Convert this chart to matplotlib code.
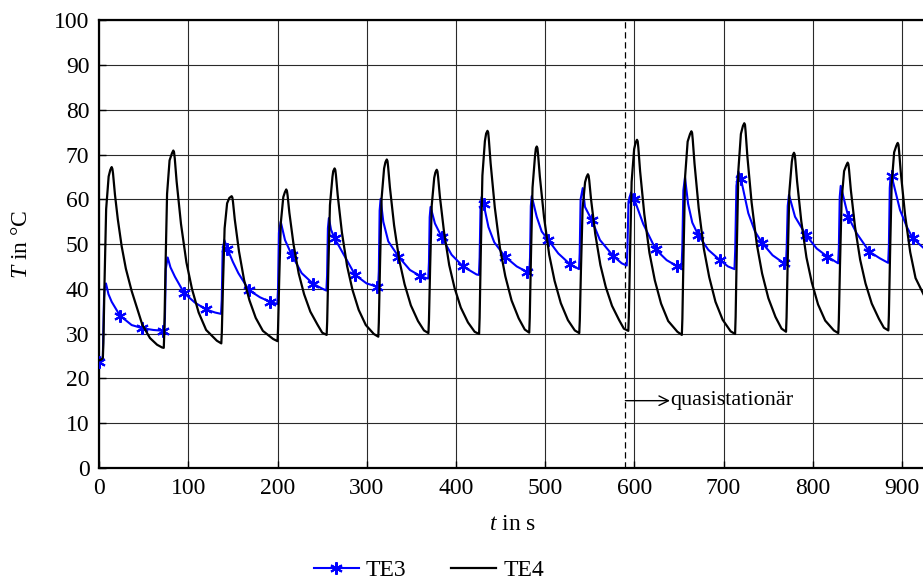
import matplotlib
matplotlib.use("Agg")
import matplotlib.pyplot as plt

# ---------------- data ----------------
x_ticks = [0, 100, 200, 300, 400, 500, 600, 700, 800, 900]
y_ticks = [0, 10, 20, 30, 40, 50, 60, 70, 80, 90, 100]

te4_t = [0, 2.5, 4.2, 4.8, 6.1, 7.9, 10.7, 12.6, 14.1, 14.9, 15.6, 17.8, 21.0, 25.3, 30.0, 36.5, 42.0, 48.4, 57.0, 65.0, 70.5, 72.5,
         73.1, 74.4, 76.2, 79.0, 81.7, 83.2, 84.0, 84.8, 86.9, 91.8, 97.9, 104.2, 111.6, 120.0, 132.0, 137.0,
         137.6, 138.9, 140.7, 143.5, 146.0, 148.6, 149.4, 150.1, 152.1, 156.8, 162.6, 168.6, 175.6, 183.6, 195.0, 200.0,
         200.6, 201.9, 203.7, 206.5, 208.3, 209.8, 210.6, 211.3, 213.3, 218.0, 223.8, 229.8, 236.8, 244.8, 250.1, 255.1,
         255.7, 257.0, 258.8, 261.6, 262.5, 264.0, 264.8, 265.5, 267.5, 272.2, 278.0, 284.0, 291.0, 299.0, 308.0, 313.0,
         313.6, 314.9, 316.7, 319.5, 321.0, 322.5, 323.3, 324.0, 326.0, 330.7, 336.5, 342.5, 349.5, 357.5, 364.2, 369.2,
         369.8, 371.1, 372.9, 375.7, 377.0, 378.5, 379.3, 380.0, 382.0, 386.7, 392.5, 398.5, 405.5, 413.5, 421.0, 426.0,
         426.6, 427.9, 429.7, 432.5, 433.9, 435.4, 436.2, 436.9, 438.9, 443.6, 449.4, 455.4, 462.4, 470.4, 477.2, 482.2,
         482.8, 484.1, 485.9, 488.7, 489.6, 490.6, 491.4, 492.1, 494.1, 498.8, 504.6, 510.6, 517.6, 525.6, 533.3, 538.3,
         538.9, 540.2, 542.0, 544.8, 546.5, 548.0, 548.8, 549.5, 551.5, 556.2, 562.0, 568.0, 575.0, 583.0, 588.3, 593.3,
         593.9, 595.2, 597.0, 599.8, 601.5, 603.0, 603.8, 604.5, 606.5, 611.2, 617.0, 623.0, 630.0, 638.0, 648.3, 653.3,
         653.9, 655.2, 657.0, 659.8, 662.5, 664.0, 664.8, 665.5, 667.5, 672.2, 678.0, 684.0, 691.0, 699.0, 708.0, 713.0,
         713.6, 714.9, 716.7, 719.5, 721.8, 723.3, 724.1, 724.8, 726.8, 731.5, 737.3, 743.3, 750.3, 758.3, 765.1, 770.1,
         770.7, 772.0, 773.8, 776.6, 777.8, 779.0, 779.8, 780.5, 782.5, 787.2, 793.0, 799.0, 806.0, 814.0, 823.7, 828.7,
         829.3, 830.6, 832.4, 835.2, 837.7, 839.2, 840.0, 840.7, 842.7, 847.4, 853.2, 859.2, 866.2, 874.2, 879.8, 884.8,
         885.4, 886.7, 888.5, 891.3, 893.8, 895.3, 896.1, 896.8, 898.8, 903.5, 909.3, 915.3, 923.6, 930.0]
te4_v = [24.0, 24.2, 24.5, 27.9, 41.6, 57.8, 65.1, 66.6, 67.2, 66.8, 65.8, 61.0, 55.5, 49.5, 44.5, 39.5, 36.0, 32.0, 29.0, 27.5, 26.9, 26.8,
         30.3, 44.4, 61.2, 68.7, 70.3, 70.9, 70.55, 69.2, 64.0, 54.5, 45.9, 39.9, 34.7, 30.8, 28.4, 27.8,
         30.4, 41.0, 53.5, 59.1, 60.3, 60.7, 60.4, 59.4, 55.5, 48.4, 41.9, 37.4, 33.5, 30.6, 28.8, 28.3,
         31.0, 41.9, 54.7, 60.5, 61.6, 62.2, 61.85, 60.9, 57.0, 49.9, 43.4, 38.8, 34.9, 32.0, 30.2, 29.7,
         32.7, 44.6, 58.7, 65.0, 66.3, 66.9, 66.55, 65.4, 60.9, 52.6, 45.1, 39.8, 35.3, 31.9, 29.9, 29.3,
         32.5, 45.1, 60.2, 66.9, 68.3, 68.9, 68.55, 67.3, 62.7, 54.2, 46.4, 41.0, 36.3, 32.8, 30.7, 30.1,
         33.0, 44.7, 58.6, 64.8, 66.0, 66.6, 66.25, 65.1, 60.7, 52.7, 45.3, 40.2, 35.8, 32.5, 30.4, 29.9,
         33.5, 48.1, 65.3, 73.0, 74.7, 75.3, 74.95, 73.5, 68.1, 58.2, 49.1, 42.8, 37.4, 33.4, 30.9, 30.2,
         33.5, 46.8, 62.6, 69.7, 71.3, 71.8, 71.45, 70.1, 65.1, 56.0, 47.6, 41.8, 36.8, 33.0, 30.7, 30.1,
         32.9, 44.3, 57.8, 63.8, 65.0, 65.6, 65.25, 64.2, 60.0, 52.3, 45.3, 40.4, 36.2, 33.0, 31.1, 30.6,
         34.0, 47.7, 63.9, 71.2, 72.7, 73.3, 72.95, 71.6, 66.3, 56.7, 48.0, 41.9, 36.7, 32.8, 30.4, 29.7,
         33.3, 47.9, 65.2, 72.9, 74.6, 75.2, 74.85, 73.4, 68.0, 58.0, 48.9, 42.6, 37.1, 33.1, 30.5, 29.9,
         33.7, 48.7, 66.6, 74.6, 76.4, 77.0, 76.65, 75.1, 69.5, 59.3, 50.0, 43.4, 37.9, 33.7, 31.1, 30.4,
         33.6, 46.4, 61.6, 68.4, 69.9, 70.4, 70.05, 68.8, 64.0, 55.1, 47.0, 41.4, 36.5, 32.9, 30.7, 30.1,
         33.1, 45.3, 59.8, 66.3, 67.6, 68.2, 67.85, 66.7, 62.2, 53.9, 46.5, 41.2, 36.7, 33.3, 31.3, 30.7,
         34.1, 47.5, 63.4, 70.5, 72.0, 72.6, 72.25, 70.9, 65.9, 56.6, 48.2, 42.4, 39.0, 36.5]

te3_t = [0.0, 3.0, 4.2, 5.5, 6.5, 7.7, 10.5, 14.1, 23.4, 36.5, 48.4, 60.8, 72.0,
         73.0, 73.8, 74.8, 76.9, 80.0, 85.0, 95.5, 107.5, 119.8, 130.0, 136.7,
         137.5, 138.5, 140.4, 143.7, 150.0, 156.1, 168.0, 180.4, 191.6, 199.8,
         200.6, 201.6, 203.6, 208.4, 215.9, 227.1, 240.1, 249.5, 254.8,
         255.6, 256.5, 257.6, 260.0, 264.0, 273.8, 287.0, 299.9, 311.5, 312.8,
         313.6, 314.5, 315.6, 318.6, 324.2, 335.6, 348.5, 359.8, 366.4, 369.0,
         369.8, 370.6, 371.6, 376.5, 384.0, 395.2, 408.0, 423.2, 425.8,
         426.6, 427.6, 428.8, 431.0, 436.5, 443.0, 455.0, 468.2, 479.4, 482.3,
         483.1, 484.0, 485.0, 490.6, 496.2, 503.6, 514.8, 527.9, 538.0,
         538.8, 539.8, 542.2, 544.7, 552.2, 561.5, 576.5, 585.9, 591.5,
         592.3, 593.5, 596.3, 600.0, 610.0, 624.0, 636.3, 647.5, 653.0,
         653.8, 655.0, 656.8, 660.3, 665.0, 671.7, 683.0, 696.1, 705.0, 712.3,
         713.1, 714.5, 716.6, 719.6, 727.8, 735.3, 743.5, 755.0, 767.8, 770.0,
         770.8, 772.0, 773.4, 780.2, 792.5, 804.5, 816.4, 828.5,
         829.3, 830.3, 831.4, 840.0, 849.3, 863.5, 875.4, 884.6,
         885.4, 886.4, 887.4, 888.6, 897.9, 905.4, 912.1, 925.0]
te3_v = [23.6, 23.8, 25.0, 38.0, 40.6, 41.2, 38.8, 37.1, 34.0, 31.9, 31.2, 30.8, 30.6,
         30.6, 33.5, 44.5, 47.0, 44.8, 42.7, 39.0, 36.9, 35.4, 34.7, 34.4,
         37.5, 48.5, 50.9, 49.0, 46.0, 43.5, 39.7, 38.1, 37.1, 36.6,
         40.0, 52.5, 55.0, 50.9, 47.6, 43.5, 41.1, 40.1, 39.6,
         43.0, 53.5, 55.8, 53.2, 51.3, 47.8, 43.1, 41.2, 40.5, 40.4,
         44.0, 57.5, 60.1, 55.0, 50.6, 47.2, 44.2, 42.9, 42.4, 42.3,
         46.0, 56.0, 58.3, 54.6, 51.6, 47.6, 45.0, 43.2, 43.1,
         47.0, 58.0, 60.5, 59.0, 53.8, 50.4, 47.2, 45.0, 43.8, 43.5,
         47.0, 58.5, 60.7, 56.1, 52.8, 50.9, 47.9, 45.5, 44.4,
         48.0, 60.0, 62.5, 58.3, 55.4, 50.9, 47.3, 45.7, 45.2,
         49.0, 59.5, 61.5, 60.0, 54.5, 48.8, 46.4, 45.1, 44.9,
         49.0, 62.0, 64.9, 59.0, 54.8, 52.0, 48.7, 46.4, 45.0, 44.4,
         48.5, 63.0, 66.2, 64.5, 56.9, 52.8, 50.2, 47.5, 45.7, 45.5,
         49.0, 58.5, 61.0, 56.1, 52.0, 49.0, 47.2, 45.7,
         49.0, 60.5, 63.0, 56.0, 52.4, 48.3, 46.8, 45.8,
         49.5, 62.5, 65.4, 65.1, 57.6, 53.9, 51.3, 49.0]

te3_marker_t = [0.0, 23.4, 48.4, 72.0, 95.5, 119.8, 143.7, 168.0, 191.6, 215.9, 240.1, 264.0, 287.0,
                311.5, 335.6, 359.8, 384.0, 408.0, 431.0, 455.0, 479.4, 503.6, 527.9, 552.2, 576.5,
                600.0, 624.0, 647.5, 671.7, 696.1, 719.6, 743.5, 767.8, 792.5, 816.4, 840.0, 863.5,
                888.6, 912.1]

quasi_start = 590
quasi_arrow_end = 640
quasi_level = 15
quasi_label = "quasistationär"

# ---------------- style ----------------
plt.rcParams["font.family"] = ["Liberation Serif", "DejaVu Serif"]
plt.rcParams["mathtext.fontset"] = "custom"
plt.rcParams["mathtext.rm"] = "Liberation Serif"
plt.rcParams["mathtext.it"] = "Liberation Serif:italic"
plt.rcParams["font.size"] = 17

W, H = 923, 584
fig = plt.figure(figsize=(W / 100, H / 100), dpi=100)

x_left_px, px_per_unit = 99.1, 0.892
xmax = 930
left = x_left_px / W
width = xmax * px_per_unit / W
bottom = (H - 467.8) / H
top = (H - 20.3) / H
ax = fig.add_axes([left, bottom, width, top - bottom])

ax.set_xlim(0, xmax)
ax.set_ylim(0, 100)
ax.set_xticks(x_ticks)
ax.set_yticks(y_ticks)
ax.grid(True, color="#2a2a2a", linewidth=0.8)
ax.set_axisbelow(True)
for s in ax.spines.values():
    s.set_linewidth(1.6)
    s.set_color("black")
ax.tick_params(direction="in", length=5, width=1.0, labelsize=17, pad=7)

marker_set = set(te3_marker_t)
mark_idx = [i for i, t in enumerate(te3_t) if t in marker_set]

ax.plot(te3_t, te3_v, color="#0000ff", linewidth=1.5, marker=(6, 2, 0), markersize=9,
        markeredgewidth=1.5, markevery=mark_idx, label="TE3", solid_joinstyle="round", zorder=3)
ax.plot(te4_t, te4_v, color="black", linewidth=1.6, label="TE4", solid_joinstyle="round", zorder=4)

ax.axvline(quasi_start, color="black", linestyle=(0, (5, 3)), linewidth=0.9, zorder=2)
ax.annotate("", xy=(quasi_arrow_end, quasi_level), xytext=(quasi_start, quasi_level),
            arrowprops=dict(arrowstyle="->", color="black", lw=1.0, shrinkA=0, shrinkB=0))
ax.text(quasi_arrow_end + 0.5, quasi_level, quasi_label, ha="left", va="center", fontsize=16)

ax.set_xlabel("$t$ in s", fontsize=17)
ax.xaxis.set_label_coords((513 - x_left_px) / (width * W), -(514 - 467.8) / ((top - bottom) * H))
ax.set_ylabel("$T$ in °C", fontsize=17)
ax.yaxis.set_label_coords(-(x_left_px - 32) / (width * W), 0.5)

handles, labels = ax.get_legend_handles_labels()
fig.legend(handles, labels, loc="center", bbox_to_anchor=(429 / W, 1 - 570 / H),
           ncol=2, frameon=False, fontsize=17, handlelength=1.9, columnspacing=1.9,
           handletextpad=0.3, numpoints=1)

fig.savefig("out.png", dpi=100)
